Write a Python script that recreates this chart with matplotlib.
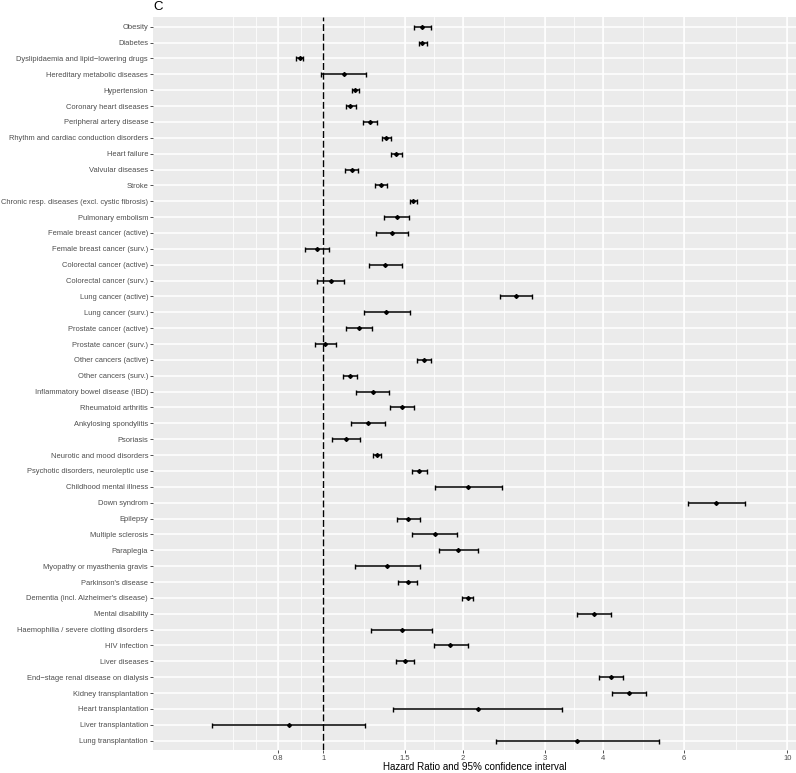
import numpy as np
import matplotlib
matplotlib.use("Agg")
import matplotlib.pyplot as plt

plt.rcParams['font.family'] = ['Liberation Sans', 'DejaVu Sans']
plt.rcParams['lines.scale_dashes'] = False

labels = [
    "Obesity", "Diabetes", "Dyslipidaemia and lipid\u2212lowering drugs",
    "Hereditary metabolic diseases", "Hypertension", "Coronary heart diseases",
    "Peripheral artery disease", "Rhythm and cardiac conduction disorders",
    "Heart failure", "Valvular diseases", "Stroke",
    "Chronic resp. diseases (excl. cystic fibrosis)", "Pulmonary embolism",
    "Female breast cancer (active)", "Female breast cancer (surv.)",
    "Colorectal cancer (active)", "Colorectal cancer (surv.)",
    "Lung cancer (active)", "Lung cancer (surv.)",
    "Prostate cancer (active)", "Prostate cancer (surv.)",
    "Other cancers (active)", "Other cancers (surv.)",
    "Inflammatory bowel disease (IBD)", "Rheumatoid arthritis",
    "Ankylosing spondylitis", "Psoriasis", "Neurotic and mood disorders",
    "Psychotic disorders, neuroleptic use", "Childhood mental illness",
    "Down syndrom", "Epilepsy", "Multiple sclerosis", "Paraplegia",
    "Myopathy or myasthenia gravis", "Parkinson's disease",
    "Dementia (incl. Alzheimer's disease)", "Mental disability",
    "Haemophilia / severe clotting disorders", "HIV infection",
    "Liver diseases", "End\u2212stage renal disease on dialysis",
    "Kidney transplantation", "Heart transplantation",
    "Liver transplantation", "Lung transplantation",
]

hr = [1.633, 1.637, 0.891, 1.111, 1.172, 1.145, 1.263, 1.369, 1.436, 1.151,
      1.332, 1.564, 1.440, 1.404, 0.970, 1.359, 1.038, 2.599, 1.369, 1.195,
      1.010, 1.649, 1.140, 1.279, 1.476, 1.248, 1.120, 1.305, 1.612, 2.047,
      7.035, 1.525, 1.739, 1.956, 1.376, 1.522, 2.047, 3.838, 1.476, 1.879,
      1.499, 4.170, 4.553, 2.153, 0.843, 3.532]
lo = [1.573, 1.608, 0.875, 0.990, 1.151, 1.120, 1.219, 1.342, 1.397, 1.117,
      1.296, 1.537, 1.352, 1.302, 0.916, 1.257, 0.970, 2.404, 1.223, 1.122,
      0.961, 1.592, 1.103, 1.178, 1.393, 1.148, 1.044, 1.283, 1.556, 1.739,
      6.127, 1.443, 1.552, 1.778, 1.172, 1.451, 1.991, 3.524, 1.266, 1.735,
      1.433, 3.926, 4.191, 1.415, 0.575, 2.357]
hi = [1.708, 1.674, 0.907, 1.238, 1.192, 1.175, 1.305, 1.401, 1.480, 1.189,
      1.373, 1.596, 1.533, 1.525, 1.028, 1.476, 1.111, 2.818, 1.537, 1.276,
      1.068, 1.704, 1.183, 1.387, 1.573, 1.359, 1.201, 1.335, 1.678, 2.423,
      8.096, 1.616, 1.942, 2.153, 1.616, 1.592, 2.104, 4.170, 1.717, 2.047,
      1.573, 4.429, 4.960, 3.276, 1.232, 5.294]

x_breaks = [0.8, 1, 1.5, 2, 3, 4, 6, 10]
x_break_labels = ["0.8", "1", "1.5", "2", "3", "4", "6", "10"]

W, H = 796, 773
fig = plt.figure(figsize=(W / 100, H / 100), dpi=100)
left_px, top_px, bottom_px = 153.3, 17.2, 750.2
ax = fig.add_axes([left_px / W, (H - bottom_px) / H, 1 - left_px / W,
                   (bottom_px - top_px) / H])
ax.set_facecolor('#EBEBEB')
ax.set_xscale('log')

# ggplot-like limits: (0.5, 10) with 5% expansion, right side cropped
lmin, lmax = np.log10(0.5), np.log10(10)
pad = 0.05 * (lmax - lmin)
px_per_dec = 464.0
x_left = 10 ** (lmin - pad)
x_right = 10 ** (np.log10(x_left) + (W - left_px) / px_per_dec)
ax.set_xlim(x_left, x_right)

n = len(labels)
y = np.arange(n)
ax.set_ylim(n - 1 + 0.6, -0.6)

# grid
lb = np.log10(x_breaks)
bd = lb[1] - lb[0]
ext = np.concatenate([[lb[0] - bd], lb, [lb[-1] + bd]])
minor = []
for a, b in zip(ext[:-1], ext[1:]):
    minor += [a, (a + b) / 2]
minor.append(ext[-1])
for m in minor:
    ax.axvline(10 ** m, color='white', lw=0.55, zorder=0.5)
for b in x_breaks:
    ax.axvline(b, color='white', lw=1.1, zorder=0.6)
for yy in y:
    ax.axhline(yy, color='white', lw=1.1, zorder=0.6)

ax.axvline(1, color='black', lw=1.0, linestyle=(0, (5.0, 2.0)), zorder=2)

ax.errorbar(hr, y, xerr=[np.array(hr) - np.array(lo), np.array(hi) - np.array(hr)],
            fmt='D', color='black', ecolor='black', elinewidth=1.1,
            capsize=1.8, capthick=1.0, markersize=2.0, zorder=3)

ax.set_xticks(x_breaks)
ax.set_xticklabels(x_break_labels)
ax.xaxis.set_minor_locator(matplotlib.ticker.NullLocator())
ax.set_yticks(y)
ax.set_yticklabels(labels)
ax.tick_params(axis='y', colors='#333333', length=2.2, width=0.6,
               labelsize=5.4, labelcolor='#4D4D4D', pad=1.6)
ax.tick_params(axis='x', colors='#333333', length=2.2, width=0.6,
               labelsize=5.5, labelcolor='#4D4D4D', pad=1.2)
for s in ax.spines.values():
    s.set_visible(False)

fig.text(475 / W, 1 - 767.5 / H, "Hazard Ratio and 95% confidence interval",
         ha='center', va='center', fontsize=7.1, color='black')
fig.text(153 / W, 1 - 7 / H, "C", ha='left', va='center', fontsize=9.5,
         color='black')

fig.savefig("out.png", dpi=100)
